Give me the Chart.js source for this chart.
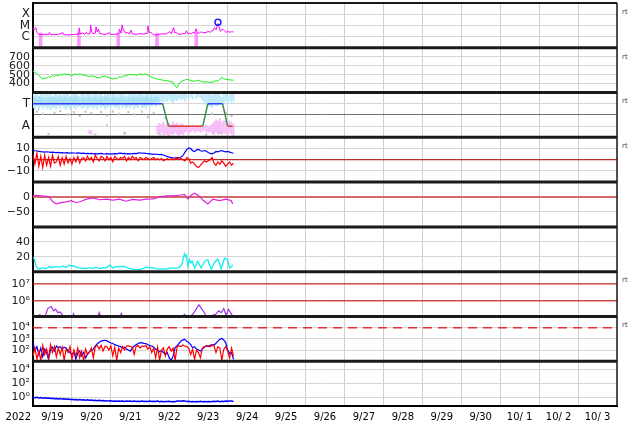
<!DOCTYPE html>
<html>
<head>
<meta charset="utf-8">
<script src="https://cdn.jsdelivr.net/npm/chart.js@4.4.0/dist/chart.umd.min.js"></script>
<style>
  html, body { margin: 0; padding: 0; background: #fff; }
</style>
</head>
<body>
<canvas id="myChart" width="634" height="424"></canvas>
<script>
// time axis: days since 2022-09-19 00:00 UT
var dayLabels = ["9/19", "9/20", "9/21", "9/22", "9/23", "9/24", "9/25", "9/26", "9/27", "9/28", "9/29", "9/30", "10/ 1", "10/ 2", "10/ 3"];
var yearLabel = "2022";
var step = 0.05; // sample spacing of the dense series (days)

// panel 1: x-ray flux
var xrayT = [0.00, 0.03, 0.07, 0.10, 0.14, 0.22, 0.30, 0.40, 0.42, 0.44, 0.55, 0.66, 0.77, 0.79, 0.90, 1.00, 1.10, 1.17, 1.19, 1.21,
  1.28, 1.33, 1.37, 1.40, 1.46, 1.48, 1.51, 1.54, 1.60, 1.62, 1.65, 1.68, 1.71, 1.75, 1.85, 1.97, 2.00, 2.10, 2.20, 2.22,
  2.26, 2.29, 2.32, 2.35, 2.38, 2.44, 2.47, 2.52, 2.55, 2.65, 2.74, 2.85, 2.93, 2.95, 2.98, 3.04, 3.08, 3.12, 3.20, 3.33,
  3.42, 3.51, 3.55, 3.61, 3.64, 3.68, 3.72, 3.80, 3.85, 3.90, 3.94, 3.97, 4.02, 4.07, 4.11, 4.15, 4.19, 4.22, 4.28, 4.32,
  4.36, 4.45, 4.50, 4.55, 4.58, 4.62, 4.66, 4.70, 4.75, 4.78, 4.81, 4.85, 4.88, 4.92, 4.96, 5.00, 5.05, 5.10, 5.15];
var xrayV = [6.0e-6, 4.0e-6, 6.5e-6, 2.2e-6, 1.6e-6, 1.5e-6, 1.6e-6, 1.5e-6, 2.3e-6, 1.5e-6, 1.5e-6, 1.6e-6, 2.2e-6, 1.5e-6, 1.4e-6, 1.5e-6, 1.6e-6, 1.7e-6, 6.0e-6, 1.8e-6,
  2.0e-6, 1.6e-6, 2.4e-6, 1.7e-6, 1.8e-6, 1.1e-5, 2.5e-6, 1.8e-6, 2.0e-6, 7.4e-6, 2.6e-6, 4.5e-6, 1.9e-6, 1.8e-6, 1.5e-6, 2.2e-6, 1.5e-6, 1.6e-6, 1.8e-6, 4.6e-6,
  2.0e-6, 1.1e-5, 3.5e-6, 3.2e-6, 1.9e-6, 2.4e-6, 1.7e-6, 3.7e-6, 1.8e-6, 1.6e-6, 1.8e-6, 1.7e-6, 2.0e-6, 9.0e-6, 2.5e-6, 2.3e-6, 1.6e-6, 1.4e-6, 1.5e-6, 1.8e-6,
  1.7e-6, 2.8e-6, 1.8e-6, 6.4e-6, 2.2e-6, 2.4e-6, 1.7e-6, 1.6e-6, 1.9e-6, 1.8e-6, 3.3e-6, 1.9e-6, 2.0e-6, 1.8e-6, 2.4e-6, 2.0e-6, 5.0e-6, 2.2e-6, 2.0e-6, 2.8e-6,
  2.2e-6, 2.4e-6, 2.8e-6, 2.5e-6, 3.0e-6, 3.4e-6, 6.4e-6, 4.0e-6, 1.45e-5, 7.0e-6, 3.0e-6, 4.0e-6, 4.5e-6, 3.2e-6, 2.4e-6, 2.8e-6, 2.5e-6, 2.7e-6, 2.6e-6];
var eclipseMid = [0.195, 1.18, 2.19, 3.185, 4.195];
var eclipseTop = [2.3e-6, 2.3e-6, 2.2e-6, 2.2e-6, 2.3e-6];
var flareT = [4.75];
var flareV = [1.9e-5];

// panel 2: solar wind speed (every step)
var speedV = [540, 525, 512, 490, 470, 452, 465, 458, 478, 470,
  490, 482, 495, 485, 502, 495, 510, 500, 505, 495,
  490, 500, 508, 498, 512, 500, 495, 488, 485, 478,
  488, 480, 478, 470, 462, 472, 480, 485, 472, 468,
  458, 450, 462, 455, 475, 470, 478, 485, 492, 498,
  505, 496, 502, 490, 500, 510, 498, 505, 508, 495,
  485, 470, 462, 455, 450, 445, 442, 438, 432, 435,
  425, 420, 415, 370, 355, 395, 420, 432, 440, 448,
  442, 435, 430, 425, 432, 438, 428, 422, 418, 420,
  415, 418, 412, 425, 430, 428, 450, 470, 455, 448,
  445, 442, 440, 438];

// panel 3: sector (T = 1, A = -1)
var sectorT = [0, 3.33, 3.48, 4.36, 4.49, 4.87, 5.00, 5.13];
var sectorV = [1, 1, -1, -1, 1, 1, -1, -1];
var cyanHi = [1.9, 1.8, 1.95, 1.7, 1.85, 1.9, 1.75, 1.95, 1.8, 1.9,
  1.7, 1.95, 1.85, 1.8, 1.9, 1.75, 1.95, 1.85, 1.9, 1.7,
  1.9, 1.85, 1.95, 1.8, 1.7, 1.9, 1.95, 1.8, 1.85, 1.9,
  1.75, 1.9, 1.95, 1.85, 1.8, 1.9, 1.7, 1.95, 1.85, 1.9,
  1.8, 1.95, 1.9, 1.75, 1.85, 1.9, 1.95, 1.8, 1.7, 1.9,
  1.85, 1.95, 1.9, 1.8, 1.95, 1.85, 1.9, 1.75, 1.95, 1.9,
  1.85, 1.9, 1.8, 1.95, 1.9, 1.85, 1.95, 1.9, 1.8, 1.95,
  1.9, 1.85, 1.95, 1.9, 1.8, 1.9, 1.85, 1.9, 1.95, 1.8,
  1.7, 1.9, 1.8, 1.6, 1.85, 1.9, 1.95, 1.8, 1.9, 1.85,
  1.95, 1.9, 1.8, 1.85, 1.9, 1.95, 1.8, 1.6, 1.85, 1.9,
  1.7, 1.8, 1.9, 1.85];
var cyanLo = [0.6, 0.5, 0.8, 0.4, 0.7, 0.55, 0.9, 0.5, 0.65, 0.45,
  0.7, 0.6, 0.5, 0.8, 0.55, 0.9, 0.6, 0.45, 0.7, 0.5,
  0.8, 0.6, 0.5, 0.7, 0.9, 0.55, 0.6, 0.75, 0.5, 0.65,
  0.8, 0.55, 0.7, 0.5, 0.9, 0.6, 0.75, 0.5, 0.65, 0.7,
  0.55, 0.8, 0.6, 0.7, 0.5, 0.85, 0.6, 0.7, 0.55, 0.75,
  0.6, 0.8, 0.5, 0.7, 0.65, 0.9, 0.6, 0.7, 0.55, 0.8,
  0.65, 0.75, 0.9, 0.7, 1.0, 0.85, 1.2, 1.1, 1.3, 1.15,
  1.4, 1.2, 1.1, 1.35, 1.25, 1.5, 1.3, 1.4, 1.2, 1.45,
  1.5, 1.6, 1.4, 1.55, 1.45, 1.6, 1.5, 1.3, 1.1, 0.9,
  0.7, 0.8, 0.6, 0.9, 0.75, 0.85, 1.0, 1.1, 0.9, 1.2,
  1.0, 1.3, 1.1, 1.2];
// denser core of the cloud
var cyanCoreHi = [1.5, 1.6, 1.4, 1.65, 1.5, 1.55, 1.3, 1.6, 1.45, 1.6,
  1.35, 1.6, 1.5, 1.4, 1.65, 1.45, 1.55, 1.6, 1.4, 1.5,
  1.6, 1.45, 1.65, 1.5, 1.35, 1.55, 1.6, 1.45, 1.5, 1.65,
  1.4, 1.55, 1.6, 1.5, 1.45, 1.6, 1.35, 1.65, 1.5, 1.55,
  1.45, 1.6, 1.55, 1.4, 1.5, 1.65, 1.6, 1.45, 1.35, 1.6,
  1.5, 1.65, 1.55, 1.45, 1.6, 1.5, 1.55, 1.4, 1.65, 1.55,
  1.5, 1.6, 1.45, 1.7, 1.6];
var cyanCoreLo = [0.95, 1.0, 0.85, 1.05, 0.9, 1.0, 0.8, 1.0, 0.9, 1.05,
  0.85, 1.0, 0.95, 0.9, 1.05, 0.85, 0.95, 1.0, 0.85, 0.95,
  1.0, 0.9, 1.05, 0.95, 0.8, 0.95, 1.0, 0.9, 0.95, 1.05,
  0.85, 0.95, 1.0, 0.9, 0.85, 1.0, 0.8, 1.05, 0.95, 1.0,
  0.9, 1.0, 0.95, 0.85, 0.95, 1.05, 1.0, 0.9, 0.8, 1.0,
  0.95, 1.05, 1.0, 0.9, 1.0, 0.95, 1.0, 0.85, 1.05, 1.0,
  0.95, 1.05, 1.0, 1.2, 1.15];
var pinkStart = 64; // first step index of the dense pink run
var pinkHi = [-0.9, -0.7, -0.8, -0.6, -0.9, -0.75, -0.7, -0.85, -0.6, -0.8,
  -0.7, -0.9, -0.75, -0.8, -0.95, -1.0, -0.9, -1.1, -0.85, -1.0,
  -0.9, -1.05, -0.95, -1.1, -1.0, -0.9, -1.1, -0.95, -0.8, -0.6,
  -0.4, -0.5, -0.3, -0.6, -0.5, -0.4, -0.7, -0.5, -0.6, -0.8];
var pinkLo = [-1.7, -1.8, -1.6, -1.85, -1.75, -1.8, -1.9, -1.7, -1.8, -1.6,
  -1.75, -1.85, -1.7, -1.8, -1.6, -1.5, -1.7, -1.55, -1.4, -1.6,
  -1.5, -1.45, -1.6, -1.5, -1.4, -1.55, -1.6, -1.5, -1.7, -1.8,
  -1.6, -1.75, -1.5, -1.8, -1.65, -1.7, -1.85, -1.6, -1.75, -1.9];
var pinkExtraT = [1.45, 1.50, 1.90, 2.35];
var pinkExtraHi = [-1.3, -1.4, -0.8, -1.5];
var pinkExtraLo = [-1.7, -1.75, -1.0, -1.8];
var grayT = [0.1, 0.25, 0.4, 0.55, 0.7, 0.9, 1.05, 1.2, 1.35, 1.5, 1.6, 1.75, 1.9, 2.05, 2.2, 2.35, 2.45, 2.6, 2.8, 2.95, 3.1, 3.25, 3.4, 4.45, 4.6, 4.8, 4.95, 5.1];
var grayV = [0.3, 0.1, -1.7, 0.2, 0.35, 0.05, 0.25, -0.1, 0.3, 0.15, -1.75, 0.25, -0.05, 0.3, 0.1, -1.6, 0.25, 0.05, 0.3, -0.2, 0.2, -1.7, -0.3, -1.75, 0.1, -1.6, 0.2, -0.1];

// panel 4: IMF Bt and Bz (every step)
var btV = [8.5, 8.0, 7.8, 7.5, 7.2, 7.0, 6.8, 7.1, 6.9, 6.6,
  6.8, 6.5, 6.3, 6.6, 6.2, 6.4, 6.0, 6.3, 6.1, 5.9,
  6.2, 6.0, 5.8, 6.1, 5.9, 5.6, 5.8, 5.5, 5.7, 5.4,
  5.6, 5.3, 5.5, 5.2, 5.4, 5.6, 5.3, 5.1, 5.4, 5.2,
  5.0, 5.3, 5.5, 5.2, 5.6, 5.8, 5.4, 5.6, 5.3, 5.5,
  5.2, 5.4, 5.7, 5.5, 5.9, 6.2, 5.8, 6.0, 5.6, 5.4,
  5.2, 5.0, 4.8, 5.1, 4.7, 4.5, 4.7, 4.2, 3.5, 2.8,
  2.3, 2.0, 1.6, 1.4, 1.8, 1.5, 2.5, 3.6, 6.5, 9.0,
  10.5, 10.0, 8.0, 7.2, 8.8, 9.2, 8.0, 7.6, 8.2, 7.8,
  6.5, 5.6, 5.2, 6.0, 7.4, 7.0, 7.8, 8.2, 7.5, 7.0,
  7.4, 6.8, 6.2, 5.8];
var bzV = [5, -4, 6, -6, 3, -7, 4, -5, 2, -6, 4, -3,
  -2, 3, -5, 2, -4, 3, -3, 1, -4, 2, -2, 3, -3, 1,
  2, -1, 3, 0, 2, -2, 4, 1, -1, 3, 2, -1, 3, 0, 2, -2, 3, 1, 0, 2,
  1, 3, -1, 2, 0, 3, 1, 2, -1, 2, 1, 0, 2, 1, 0, 1, 2, 0, 1, 0, 1, -1, 0, 1,
  0, 1, 0, 1, 1, 2, 1, 0, -1, 2,
  1, -3, -2, -4, -6, -7, -5, -3, -1, -2,
  -1, 0, 2, -3, -5, -2, -4, -1, -3, -6,
  -4, -2, -5, -3];

// panel 5: Dst
var dstT = [0, 0.08, 0.34, 0.42, 0.51, 0.60, 0.72, 0.85, 0.98, 1.11, 1.24, 1.37, 1.54, 1.71, 1.88, 2.05, 2.22, 2.39, 2.56, 2.74,
  2.91, 3.08, 3.25, 3.42, 3.59, 3.76, 3.89, 3.98, 4.06, 4.15, 4.28, 4.36, 4.49, 4.62, 4.79, 4.96, 5.09, 5.13];
var dstV = [4, 6, 2, 0, -16, -23, -19, -16, -12, -19, -14, -7, -3, -9, -7, -10, -7, -14, -8, -10,
  -7, -6, 0, 4, 4, 6, 9, -7, 6, 13, 2, -10, -23, -7, -12, -7, -12, -23];

// panel 6: proton density
var densT = [0, 0.04, 0.08, 0.13, 0.17, 0.25, 0.34, 0.42, 0.5, 0.6, 0.68, 0.77, 0.85, 0.94, 1.0, 1.05, 1.11, 1.19, 1.28, 1.37,
  1.45, 1.54, 1.62, 1.71, 1.8, 1.88, 1.97, 2.05, 2.14, 2.22, 2.3, 2.39, 2.47, 2.56, 2.65, 2.74, 2.82, 2.91, 3.0, 3.08,
  3.16, 3.25, 3.34, 3.42, 3.5, 3.59, 3.68, 3.76, 3.82, 3.85, 3.89, 3.92, 3.94, 3.98, 4.02, 4.06, 4.09, 4.15, 4.23, 4.28,
  4.32, 4.41, 4.49, 4.54, 4.58, 4.66, 4.75, 4.8, 4.83, 4.92, 5.0, 5.05, 5.1, 5.13];
var densV = [19.6, 16, 7, 4, 3.5, 5, 4, 6.5, 5.5, 7, 6, 7.5, 6, 9, 7, 8, 6, 5, 4.5, 4,
  5.5, 4.5, 6, 4, 5.5, 5, 9, 5, 7, 6, 7.5, 6, 4.5, 3.5, 3, 2.7, 4, 6, 5, 5.5,
  4, 3.5, 4, 3.5, 4.5, 5, 4.5, 6, 9, 16, 24, 20, 22, 7, 16, 12, 14, 5, 14, 9,
  5, 14, 16, 8, 3.5, 12, 17, 10, 3.5, 18, 16, 5, 7, 9];

// panel 7: electron flux
var elecT = [0, 0.09, 0.17, 0.30, 0.38, 0.47, 0.53, 0.58, 0.64, 0.70, 0.77, 0.85, 1.01, 1.04, 1.09, 1.66, 1.70, 1.75, 2.23, 2.27,
  2.31, 3.83, 3.89, 3.96, 4.09, 4.16, 4.26, 4.33, 4.39, 4.45, 4.56, 4.69, 4.77, 4.84, 4.90, 4.96, 5.02, 5.11, 5.15];
var elecV = [1.37e5, 1.0e5, 1.5e5, 1.0e5, 3.5e5, 4.6e5, 2.6e5, 3.2e5, 2.0e5, 2.2e5, 1.3e5, 1.0e5, 1.0e5, 1.7e5, 1.0e5, 1.0e5, 2.0e5, 1.0e5, 1.0e5, 1.8e5,
  1.0e5, 1.0e5, 1.6e5, 1.0e5, 1.5e5, 2.5e5, 5.8e5, 3.5e5, 2.2e5, 1.2e5, 1.3e5, 1.6e5, 2.6e5, 2.0e5, 3.5e5, 1.4e5, 3.2e5, 1.5e5, 1.2e5];

// panel 8: proton flux, two channels (every step)
var p8Blue = [460, 90, 200, 40, 150, 25, 120, 60, 14, 100,
  180, 80, 230, 160, 200, 120, 180, 150, 90, 60,
  40, 70, 15, 55, 80, 30, 60, 20, 45, 70,
  90, 120, 230, 350, 500, 630, 700, 740, 650, 520,
  420, 380, 300, 260, 230, 200, 160, 180, 120, 100,
  80, 150, 230, 300, 380, 460, 430, 400, 380, 300,
  250, 230, 180, 120, 100, 70, 90, 60, 40, 60,
  20, 12, 30, 160, 250, 400, 630, 800, 900, 600,
  460, 300, 160, 200, 120, 100, 80, 120, 180, 230,
  200, 260, 300, 280, 400, 630, 900, 1100, 800, 460,
  100, 50, 60, 15];
var p8Red = [30, 150, 15, 80, 12, 250, 40, 120, 20, 300,
  60, 200, 25, 150, 40, 180, 12, 120, 60, 200,
  15, 100, 30, 150, 20, 80, 12, 120, 40, 60,
  150, 20, 200, 250, 120, 260, 80, 220, 200, 100,
  230, 30, 180, 12, 150, 60, 200, 100, 220, 250,
  200, 180, 40, 220, 250, 150, 230, 200, 260, 120,
  200, 60, 150, 20, 180, 12, 100, 160, 30, 120,
  200, 80, 150, 12, 180, 250, 200, 280, 230, 200,
  150, 40, 120, 15, 100, 60, 20, 150, 200, 230,
  250, 200, 280, 230, 60, 200, 150, 12, 120, 200,
  80, 20, 150, 30];

// panel 9 (every step)
var p9Blue = [1.0, 0.9, 1.05, 0.85, 0.95, 0.8, 0.88, 0.75, 0.82, 0.7,
  0.75, 0.65, 0.72, 0.62, 0.68, 0.58, 0.64, 0.55, 0.6, 0.52,
  0.56, 0.48, 0.52, 0.45, 0.5, 0.43, 0.47, 0.41, 0.45, 0.4,
  0.43, 0.38, 0.41, 0.35, 0.39, 0.34, 0.37, 0.32, 0.35, 0.3,
  0.33, 0.29, 0.32, 0.28, 0.31, 0.29, 0.32, 0.27, 0.3, 0.28,
  0.31, 0.27, 0.3, 0.26, 0.29, 0.27, 0.3, 0.26, 0.28, 0.27,
  0.3, 0.26, 0.28, 0.27, 0.31, 0.25, 0.28, 0.24, 0.27, 0.26,
  0.28, 0.24, 0.27, 0.25, 0.3, 0.32, 0.28, 0.34, 0.3, 0.27,
  0.28, 0.25, 0.27, 0.24, 0.27, 0.25, 0.28, 0.24, 0.27, 0.25,
  0.27, 0.24, 0.26, 0.28, 0.27, 0.3, 0.25, 0.28, 0.27, 0.3,
  0.28, 0.31, 0.3, 0.27];

// horizontal reference levels
var imfZero = [0];
var dstZero = [0];
var elecLevels = [1e6, 1e7];
var protLevel = [1e4];

// axis ticks
var xrayTicks = [1e-6, 1e-5, 1e-4], xrayLabels = ["C", "M", "X"];
var speedTicks = [400, 500, 600, 700], speedLabels = ["400", "500", "600", "700"];
var sectorTicks = [-1, 0, 1], sectorLabels = ["A", "", "T"];
var imfTicks = [-10, 0, 10], imfLabels = ["\u221210", "0", "10"];
var dstTicks = [-50, 0], dstLabels = ["\u221250", "0"];
var densTicks = [20, 40], densLabels = ["20", "40"];
var elecTicks = [1e6, 1e7], elecLabels = ["10\u2076", "10\u2077"];
var protTicks = [1e2, 1e3, 1e4], protLabels = ["10\u00b2", "10\u00b3", "10\u2074"];
var lowTicks = [1, 1e2, 1e4], lowLabels = ["10\u2070", "10\u00b2", "10\u2074"];

var panelIds = ["yXray", "ySpeed", "ySector", "yImf", "yDst", "yDens", "yElec", "yProt", "yLow"];
var rtPanels = ["yXray", "ySpeed", "ySector", "yImf", "yElec", "yProt"];

function pairs(t, v) {
  return t.map(function(x, i) { return {x: x, y: v[i]}; });
}
function sampled(v, start) {
  start = start || 0;
  return v.map(function(y, i) { return {x: (start + i) * step, y: y}; });
}
function ranged(t, lo, hi) {
  return t.map(function(x, i) { return {x: x, y: [lo[i], hi[i]]}; });
}
function stepTimes(arr, start) {
  return arr.map(function(v, i) { return ((start || 0) + i) * step; });
}
function level(v) {
  return [{x: 0, y: v}, {x: 15, y: v}];
}
function lineSet(axis, data, color, width, order) {
  return {type: "line", yAxisID: axis, data: data, borderColor: color, borderWidth: width,
    pointRadius: 0, fill: false, tension: 0, order: order};
}
function barSet(axis, data, color, thickness, order) {
  return {type: "bar", yAxisID: axis, data: data, backgroundColor: color, borderWidth: 0,
    barThickness: thickness, grouped: false, inflateAmount: 0, order: order};
}

function panelAxis(id, type, min, max, ticks, labels, fontSize, gridColor) {
  return {
    type: type, position: "left", stack: "panels", stackWeight: 1,
    weight: panelIds.length - panelIds.indexOf(id),
    min: min, max: max, offset: false,
    afterFit: function(s) { s.width = 33; s.paddingTop = 0; s.paddingBottom = 0; },
    afterBuildTicks: function(s) { s.ticks = ticks.map(function(v) { return {value: v}; }); },
    ticks: {
      autoSkip: false, padding: 3, color: "#222",
      font: {family: "DejaVu Sans", size: fontSize},
      callback: function(v, i) { return labels[i]; }
    },
    grid: {color: gridColor || "#d6d6d6", drawTicks: false, lineWidth: 1},
    border: {display: true, color: "#000", width: 2}
  };
}

var sectorColors = {toward: "#3a3aff", away: "#e03c3c", change: "#3d8f4a"};

var datasets = [
  // panel 1
  lineSet("yXray", pairs(xrayT, xrayV), "#ff00ff", 1, 5),
  barSet("yXray", ranged(eclipseMid, eclipseMid.map(function() { return 1e-7; }), eclipseTop), "rgba(255,80,255,0.6)", 3.5, 6),
  {type: "line", yAxisID: "yXray", data: pairs(flareT, flareV), showLine: false, pointRadius: 3,
    pointBorderColor: "#2020ff", pointBackgroundColor: "rgba(0,0,0,0)", pointBorderWidth: 1.5, order: 1},
  // panel 2
  lineSet("ySpeed", sampled(speedV), "#11ee11", 1, 5),
  // panel 3
  barSet("ySector", ranged(stepTimes(cyanHi), cyanLo, cyanHi), "#bdeafa", 2, 9),
  barSet("ySector", ranged(stepTimes(cyanCoreHi), cyanCoreLo, cyanCoreHi), "#a4def5", 2, 8.5),
  barSet("ySector", ranged(stepTimes(pinkHi, pinkStart), pinkLo, pinkHi), "#f7bcf7", 2, 8),
  barSet("ySector", ranged(pinkExtraT, pinkExtraLo, pinkExtraHi), "#f7bcf7", 2, 8),
  {type: "line", yAxisID: "ySector", data: pairs(grayT, grayV), showLine: false, pointRadius: 1.5,
    pointStyle: "rect", pointBackgroundColor: "#c4c4c4", pointBorderWidth: 0, order: 7},
  {type: "line", yAxisID: "ySector", data: pairs(sectorT, sectorV), borderColor: sectorColors.toward, borderWidth: 1.5,
    pointRadius: 0, fill: false, tension: 0, order: 2,
    segment: {borderColor: function(c) {
      var a = c.p0.parsed.y, b = c.p1.parsed.y;
      if (a !== b) return sectorColors.change;
      return a > 0 ? sectorColors.toward : sectorColors.away;
    }}},
  // panel 4
  lineSet("yImf", level(imfZero[0]), "#b00000", 1, 10),
  lineSet("yImf", sampled(btV), "#0000ff", 1.2, 4),
  lineSet("yImf", sampled(bzV), "#ff0000", 1.2, 3),
  // panel 5
  lineSet("yDst", level(dstZero[0]), "#d46a6a", 2, 10),
  lineSet("yDst", pairs(dstT, dstV), "#dd22dd", 1.2, 5),
  // panel 6
  lineSet("yDens", pairs(densT, densV), "#11eeee", 1.3, 5),
  // panel 7
  lineSet("yElec", level(elecLevels[0]), "#c80000", 1, 10),
  lineSet("yElec", level(elecLevels[1]), "#c80000", 1, 10),
  lineSet("yElec", pairs(elecT, elecV), "#a030e0", 1.2, 5),
  // panel 8
  Object.assign(lineSet("yProt", level(protLevel[0]), "#e03030", 1.5, 10), {borderDash: [9, 6]}),
  lineSet("yProt", sampled(p8Blue), "#0000ff", 1.2, 4),
  lineSet("yProt", sampled(p8Red), "#ff0000", 1.2, 3),
  // panel 9
  lineSet("yLow", sampled(p9Blue), "#0000ff", 1.5, 5)
];

var xTicks = [];
dayLabels.forEach(function(d, i) { xTicks.push(i, i + 0.5); });
xTicks.push(dayLabels.length);

var scales = {
  x: {
    type: "linear", position: "bottom", min: 0, max: 15, offset: false,
    afterFit: function(s) { s.height = 18; s.paddingLeft = 0; s.paddingRight = 0; },
    afterBuildTicks: function(s) { s.ticks = xTicks.map(function(v) { return {value: v}; }); },
    ticks: {
      autoSkip: false, maxRotation: 0, padding: 5, color: "#000",
      font: {family: "DejaVu Sans", size: 10},
      callback: function(v) { return Number.isInteger(v) ? "" : dayLabels[Math.floor(v)]; }
    },
    grid: {
      drawTicks: false, offset: false,
      color: function(ctx) { return ctx.tick && Number.isInteger(ctx.tick.value) ? "#d0d0d0" : "rgba(0,0,0,0)"; }
    },
    border: {display: true, color: "#000", width: 2}
  },
  yXray: panelAxis("yXray", "logarithmic", 1e-7, 1e-3, xrayTicks, xrayLabels, 12),
  ySpeed: panelAxis("ySpeed", "linear", 300, 800, speedTicks, speedLabels, 11),
  ySector: panelAxis("ySector", "linear", -2, 2, sectorTicks, sectorLabels, 12,
    function(ctx) { return ctx.tick && ctx.tick.value === 0 ? "#707070" : "#d6d6d6"; }),
  yImf: panelAxis("yImf", "linear", -20, 20, imfTicks, imfLabels, 11),
  yDst: panelAxis("yDst", "linear", -100, 50, dstTicks, dstLabels, 11),
  yDens: panelAxis("yDens", "linear", 0, 60, densTicks, densLabels, 11),
  yElec: panelAxis("yElec", "logarithmic", 1.2e5, 5.3e7, elecTicks, elecLabels, 11),
  yProt: panelAxis("yProt", "logarithmic", 10, 1e5, protTicks, protLabels, 11),
  yLow: panelAxis("yLow", "logarithmic", 0.06, 1.5e5, lowTicks, lowLabels, 11)
};

var panelFrame = {
  id: "panelFrame",
  beforeDatasetDraw: function(chart, args) {
    var ys = args.meta.yScale, a = chart.chartArea, ctx = chart.ctx;
    ctx.save();
    ctx.beginPath();
    ctx.rect(a.left, ys.top, a.right - a.left, ys.bottom - ys.top);
    ctx.clip();
  },
  afterDatasetDraw: function(chart) {
    chart.ctx.restore();
  },
  afterDraw: function(chart) {
    var ctx = chart.ctx, a = chart.chartArea;
    ctx.save();
    ctx.strokeStyle = "#1a1a1a";
    panelIds.forEach(function(id, k) {
      var s = chart.scales[id];
      if (k < panelIds.length - 1) {
        ctx.lineWidth = 3;
        ctx.beginPath();
        ctx.moveTo(a.left, s.bottom);
        ctx.lineTo(a.right, s.bottom);
        ctx.stroke();
      }
      if (rtPanels.indexOf(id) >= 0) {
        ctx.fillStyle = "#444";
        ctx.font = "7px 'DejaVu Sans'";
        ctx.textAlign = "left";
        ctx.textBaseline = "middle";
        ctx.fillText("rt", a.right + 5, s.top + 9);
      }
    });
    ctx.lineWidth = 2;
    ctx.beginPath();
    ctx.moveTo(a.left, a.top);
    ctx.lineTo(a.right, a.top);
    ctx.stroke();
    ctx.lineWidth = 1.5;
    ctx.beginPath();
    ctx.moveTo(a.right, a.top);
    ctx.lineTo(a.right, a.bottom);
    ctx.stroke();
    ctx.fillStyle = "#000";
    ctx.font = "10px 'DejaVu Sans'";
    ctx.textAlign = "right";
    ctx.textBaseline = "middle";
    ctx.fillText(yearLabel, a.left - 2, a.bottom + 11);
    ctx.restore();
  }
};

new Chart("myChart", {
  type: "line",
  data: {datasets: datasets},
  options: {
    responsive: false,
    animation: false,
    layout: {autoPadding: false, padding: {top: 3, right: 17, bottom: 0, left: 0}},
    plugins: {legend: {display: false}, tooltip: {enabled: false}},
    scales: scales
  },
  plugins: [panelFrame]
});
</script>
</body>
</html>
